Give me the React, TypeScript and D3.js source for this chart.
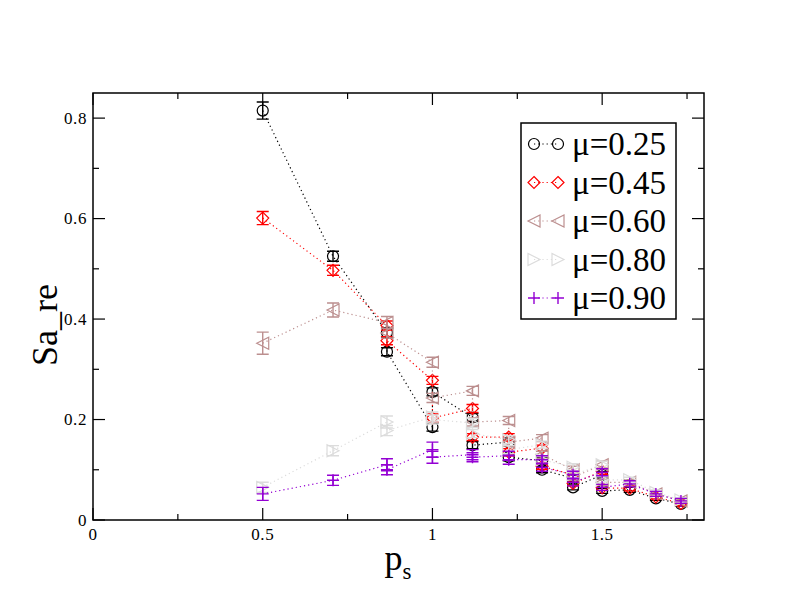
import React from "react";
import * as d3 from "d3";

// p_s positions (several momenta share the same |p|)
const psValues = [
  0.5, 0.7071, 0.866, 0.866, 1.0, 1.0, 1.118, 1.118, 1.2247, 1.2247, 1.3229,
  1.3229, 1.4142, 1.4142, 1.5, 1.5, 1.5811, 1.6583, 1.7321,
];

const mu025 = [
  0.815, 0.525, 0.373, 0.335, 0.185, 0.255, 0.204, 0.149, 0.155, 0.125, 0.118,
  0.1, 0.083, 0.065, 0.09, 0.058, 0.06, 0.043, 0.032,
];
const mu025Err = [
  0.017, 0.01, 0.009, 0.008, 0.008, 0.008, 0.008, 0.007, 0.007, 0.007, 0.006,
  0.006, 0.006, 0.005, 0.006, 0.005, 0.005, 0.004, 0.004,
];

const mu045 = [
  0.601, 0.497, 0.387, 0.357, 0.278, 0.203, 0.222, 0.165, 0.165, 0.135, 0.143,
  0.107, 0.09, 0.073, 0.097, 0.064, 0.063, 0.046, 0.033,
];
const mu045Err = [
  0.013, 0.01, 0.009, 0.008, 0.008, 0.008, 0.008, 0.007, 0.007, 0.007, 0.006,
  0.006, 0.006, 0.005, 0.006, 0.005, 0.005, 0.004, 0.004,
];

const mu060 = [
  0.352, 0.418, 0.393, 0.372, 0.314, 0.243, 0.257, 0.195, 0.198, 0.155, 0.163,
  0.13, 0.1, 0.085, 0.11, 0.075, 0.075, 0.052, 0.038,
];
const mu060Err = [
  0.022, 0.014, 0.012, 0.01, 0.01, 0.009, 0.009, 0.008, 0.008, 0.008, 0.007,
  0.007, 0.007, 0.006, 0.007, 0.006, 0.005, 0.005, 0.004,
];

const mu080 = [
  0.065, 0.138, 0.195, 0.178, 0.205, 0.2, 0.193, 0.172, 0.16, 0.14, 0.15, 0.12,
  0.105, 0.09, 0.11, 0.08, 0.08, 0.055, 0.04,
];
const mu080Err = [
  0.01, 0.01, 0.012, 0.01, 0.01, 0.009, 0.009, 0.008, 0.008, 0.008, 0.007,
  0.007, 0.007, 0.006, 0.007, 0.006, 0.005, 0.005, 0.004,
];

const mu090 = [
  0.052, 0.079, 0.11, 0.1, 0.14, 0.125, 0.13, 0.125, 0.128, 0.12, 0.12, 0.105,
  0.09, 0.075, 0.095, 0.065, 0.072, 0.052, 0.038,
];
const mu090Err = [
  0.013, 0.01, 0.012, 0.01, 0.015, 0.012, 0.01, 0.009, 0.009, 0.009, 0.008,
  0.008, 0.007, 0.007, 0.007, 0.006, 0.006, 0.005, 0.005,
];

const seriesLabels = ["\u03bc=0.25", "\u03bc=0.45", "\u03bc=0.60", "\u03bc=0.80", "\u03bc=0.90"];
const seriesColors = ["#000000", "#ff0000", "#bc8f8f", "#dcdcdc", "#9400d3"];
const seriesSymbols = ["circle", "diamond", "triangleLeft", "triangleRight", "plus"];
const seriesValues = [mu025, mu045, mu060, mu080, mu090];
const seriesErrors = [mu025Err, mu045Err, mu060Err, mu080Err, mu090Err];

const xTicks = [0, 0.5, 1, 1.5];
const xTickLabels = ["0", "0.5", "1", "1.5"];
const yTicks = [0, 0.2, 0.4, 0.6, 0.8];
const yTickLabels = ["0", "0.2", "0.4", "0.6", "0.8"];

function drawSymbol(g: any, kind: string, cx: number, cy: number, color: string) {
  const s = 6;
  if (kind === "circle") {
    g.append("circle").attr("cx", cx).attr("cy", cy).attr("r", 5.5)
      .attr("fill", "none").attr("stroke", color).attr("stroke-width", 1.2);
  } else if (kind === "plus") {
    g.append("path")
      .attr("d", `M${cx - s},${cy}H${cx + s}M${cx},${cy - s}V${cy + s}`)
      .attr("stroke", color).attr("stroke-width", 1.4).attr("fill", "none");
  } else {
    let pts: number[][] = [];
    if (kind === "diamond") pts = [[0, -s], [s, 0], [0, s], [-s, 0]];
    if (kind === "triangleLeft") pts = [[-s, 0], [s, -s], [s, s]];
    if (kind === "triangleRight") pts = [[s, 0], [-s, -s], [-s, s]];
    g.append("polygon")
      .attr("points", pts.map((p) => cx + p[0] + "," + (cy + p[1])).join(" "))
      .attr("fill", "none").attr("stroke", color).attr("stroke-width", 1.2);
  }
}

class SaReChart extends React.Component {
  node: SVGSVGElement | null = null;

  componentDidMount() {
    this.createChart();
  }

  createChart() {
    var margin = { top: 93, right: 88, bottom: 92, left: 93 },
      width = 792,
      height = 612;

    var svg = d3.select(this.node);
    svg.selectAll("*").remove();

    var x = d3.scaleLinear().domain([0, 1.8]).range([margin.left, width - margin.right]);
    var y = d3.scaleLinear().domain([0, 0.85]).range([height - margin.bottom, margin.top]);

    var x0 = x.range()[0], x1 = x.range()[1];
    var y0 = y.range()[0], y1 = y.range()[1];
    var font = "Liberation Serif, Times New Roman, serif";

    // ticks, inward on all four sides
    var ticks = svg.append("g").attr("stroke", "#000").attr("stroke-width", 1.2);
    d3.range(0, 1.8001, 0.25).forEach((v, i) => {
      var len = i % 2 === 0 ? 12 : 6;
      ticks.append("line").attr("x1", x(v)).attr("x2", x(v)).attr("y1", y0).attr("y2", y0 - len);
      ticks.append("line").attr("x1", x(v)).attr("x2", x(v)).attr("y1", y1).attr("y2", y1 + len);
    });
    d3.range(0, 0.8501, 0.1).forEach((v, i) => {
      var len = i % 2 === 0 ? 12 : 6;
      ticks.append("line").attr("x1", x0).attr("x2", x0 + len).attr("y1", y(v)).attr("y2", y(v));
      ticks.append("line").attr("x1", x1).attr("x2", x1 - len).attr("y1", y(v)).attr("y2", y(v));
    });

    svg.append("rect")
      .attr("x", x0).attr("y", y1).attr("width", x1 - x0).attr("height", y0 - y1)
      .attr("fill", "none").attr("stroke", "#000").attr("stroke-width", 1.5);

    // tick labels
    xTicks.forEach((v, i) => {
      svg.append("text").attr("x", x(v)).attr("y", y0 + 20)
        .attr("text-anchor", "middle")
        .style("font-family", font).style("font-size", "17px").style("letter-spacing", "0.6px")
        .text(xTickLabels[i]);
    });
    yTicks.forEach((v, i) => {
      svg.append("text").attr("x", x0 - 6).attr("y", y(v) + 5.5)
        .attr("text-anchor", "end")
        .style("font-family", font).style("font-size", "17px").style("letter-spacing", "0.6px")
        .text(yTickLabels[i]);
    });

    // axis titles
    var xt = svg.append("text").attr("x", 398).attr("y", 570)
      .attr("text-anchor", "middle")
      .style("font-family", font).style("font-size", "36px");
    xt.append("tspan").text("p");
    xt.append("tspan").style("font-size", "23px").attr("dy", 9).text("s");

    svg.append("text")
      .attr("transform", "translate(57,325) rotate(-90)")
      .attr("text-anchor", "middle")
      .style("font-family", font).style("font-size", "36px")
      .text("Sa_re");

    // series
    var line = d3.line<number>()
      .x((d, i) => x(psValues[i]))
      .y((d) => y(d));

    seriesValues.forEach((vals, si) => {
      var color = seriesColors[si];
      var g = svg.append("g");
      g.append("path").datum(vals).attr("d", line)
        .attr("fill", "none").attr("stroke", color).attr("stroke-width", 1.2)
        .attr("stroke-dasharray", "1.2,3");
      vals.forEach((v, i) => {
        var cx = x(psValues[i]);
        var e = seriesErrors[si][i];
        var ya = y(v - e), yb = y(v + e);
        g.append("path")
          .attr("d", `M${cx},${ya}V${yb}M${cx - 6},${ya}H${cx + 6}M${cx - 6},${yb}H${cx + 6}`)
          .attr("stroke", color).attr("stroke-width", 1.4).attr("fill", "none");
        drawSymbol(g, seriesSymbols[si], cx, y(v), color);
      });
    });

    // legend
    var lg = svg.append("g");
    lg.append("rect").attr("x", 521).attr("y", 123).attr("width", 155).attr("height", 196)
      .attr("fill", "#fff").attr("stroke", "#000").attr("stroke-width", 1.5);
    seriesLabels.forEach((lab, si) => {
      var cy = 144 + si * 38.5;
      var color = seriesColors[si];
      lg.append("line").attr("x1", 534).attr("x2", 558).attr("y1", cy).attr("y2", cy)
        .attr("stroke", color).attr("stroke-width", 1.2).attr("stroke-dasharray", "1.2,3");
      drawSymbol(lg, seriesSymbols[si], 534, cy, color);
      drawSymbol(lg, seriesSymbols[si], 558, cy, color);
      lg.append("text").attr("x", 572).attr("y", cy + 11)
        .style("font-family", font).style("font-size", "33px").text(lab);
    });
  }

  render() {
    return (
      <svg
        ref={(n) => { this.node = n; }}
        width={792}
        height={612}
        style={{ position: "absolute", left: 0, top: 0, background: "#fff" }}
      />
    );
  }
}

export default function App() {
  return <SaReChart />;
}
